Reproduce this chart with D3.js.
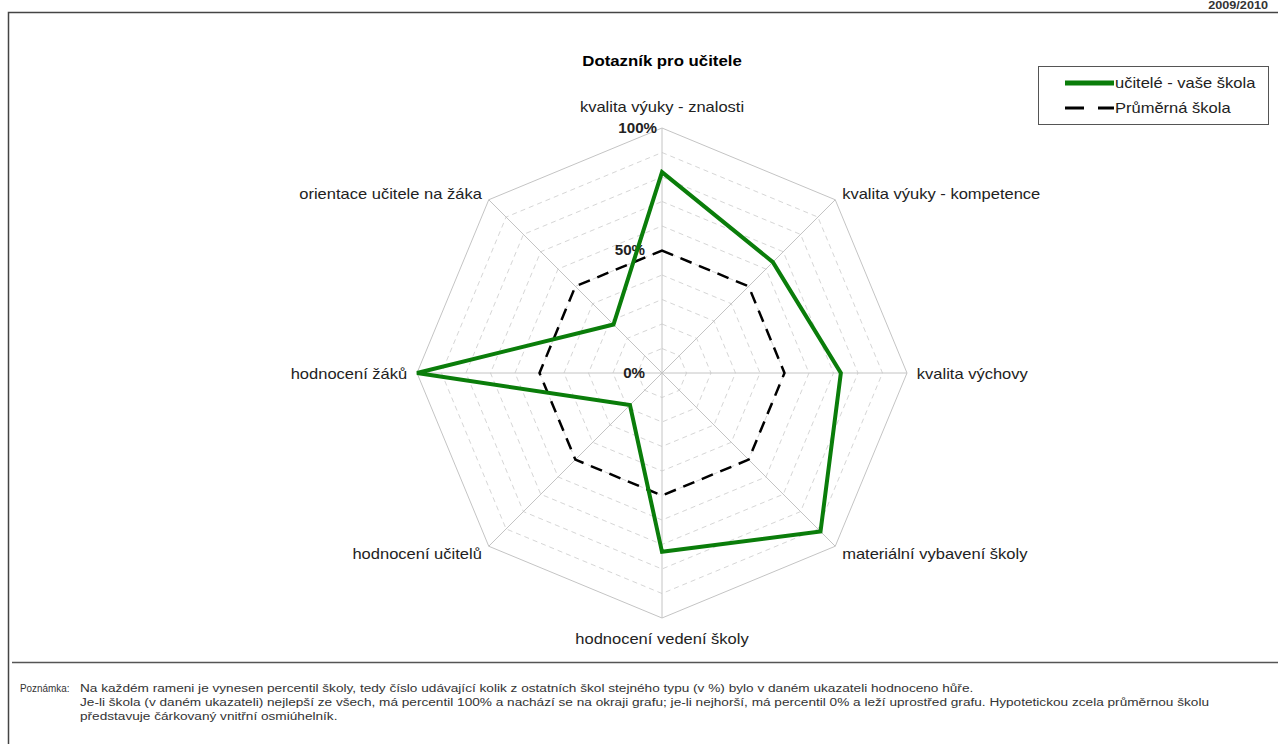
<!DOCTYPE html>
<html>
<head>
<meta charset="utf-8">
<script src="https://cdn.jsdelivr.net/npm/d3@7"></script>
<style>
  body { margin: 0; background: #fff; }
  svg { font-family: "Liberation Sans", Arial, sans-serif; }
</style>
</head>
<body>
<svg id="chart" width="1278" height="744"></svg>
<script>
// Radar chart - teacher questionnaire

// axis names (clockwise from top)
const axes = [
    "kvalita výuky - znalosti",
    "kvalita výuky - kompetence",
    "kvalita výchovy",
    "materiální vybavení školy",
    "hodnocení vedení školy",
    "hodnocení učitelů",
    "hodnocení žáků",
    "orientace učitele na žáka"
];

// percentiles (0..1)
const schoolValues = [0.82, 0.64, 0.73, 0.915, 0.73, 0.185, 1.0, 0.28];
const averageValues = [0.5, 0.5, 0.5, 0.5, 0.5, 0.5, 0.5, 0.5];

const seriesNames = ["učitelé - vaše škola", "Průměrná škola"];
const tickLabels = [{ v: 1, t: "100%" }, { v: 0.5, t: "50%" }, { v: 0, t: "0%" }];
const gridLevels = d3.range(1, 10).map(i => i / 10);

const noteLines = [
    "Na každém rameni je vynesen percentil školy, tedy číslo udávající kolik z ostatních škol stejného typu (v %) bylo v daném ukazateli hodnoceno hůře.",
    "Je-li škola (v daném ukazateli) nejlepší ze všech, má percentil 100% a nachází se na okraji grafu; je-li nejhorší, má percentil 0% a leží uprostřed grafu. Hypotetickou zcela průměrnou školu",
    "představuje čárkovaný vnitřní osmiúhelník."
];

const svg = d3.select("#chart");
const cx = 662, cy = 373, R = 245;

const r = d3.scaleLinear().domain([0, 1]).range([0, R]);
const angle = d3.scalePoint().domain(axes).range([0, 2 * Math.PI * 7 / 8]);

function pt(name, v) {
    const a = angle(name);
    return [cx + r(v) * Math.sin(a), cy - r(v) * Math.cos(a)];
}

// the source text is set wider than our fonts, so stretch it horizontally
const wide = (x, y, sx) => `translate(${x},${y}) scale(${sx},1)`;

// frame
svg.append("path")
    .attr("d", "M8.5,744 L8.5,12.5 L1278,12.5")
    .attr("fill", "none").attr("stroke", "#444").attr("stroke-width", 1.5);
svg.append("line")
    .attr("x1", 12).attr("x2", 1278).attr("y1", 662.5).attr("y2", 662.5)
    .attr("stroke", "#555").attr("stroke-width", 1.5);

svg.append("text")
    .attr("transform", wide(1268, 9, 1.15))
    .attr("text-anchor", "end")
    .attr("font-size", 11).attr("font-weight", "bold").attr("fill", "#333")
    .text("2009/2010");

// title
svg.append("text")
    .attr("transform", wide(cx, 66, 1.12))
    .attr("text-anchor", "middle")
    .attr("font-size", 15).attr("font-weight", "bold")
    .text("Dotazník pro učitele");

const line = d3.line();
const ring = v => line(axes.map(a => pt(a, v))) + "Z";

// dashed grid octagons
svg.append("g").selectAll("path")
    .data(gridLevels)
    .enter()
    .append("path")
    .attr("d", d => ring(d))
    .attr("fill", "none")
    .attr("stroke", "#d6d6d6")
    .attr("stroke-dasharray", "5,4");

// outer octagon
svg.append("path")
    .attr("d", ring(1))
    .attr("fill", "none").attr("stroke", "#c4c4c4");

// spokes
svg.append("g").selectAll("line")
    .data(axes)
    .enter()
    .append("line")
    .attr("x1", cx).attr("y1", cy)
    .attr("x2", d => pt(d, 1)[0]).attr("y2", d => pt(d, 1)[1])
    .attr("stroke", "#c4c4c4");

// axis labels
svg.append("g").selectAll("text")
    .data(axes)
    .enter()
    .append("text")
    .attr("transform", d => {
        const [x, y] = pt(d, 1.04);
        const c = Math.cos(angle(d));
        return wide(x, Math.abs(c) > 0.99 ? y - c * 11 : y + 1, 1.18);
    })
    .attr("dominant-baseline", "central")
    .attr("text-anchor", d => {
        const s = Math.sin(angle(d));
        return Math.abs(s) < 0.01 ? "middle" : (s > 0 ? "start" : "end");
    })
    .attr("font-size", 14).attr("fill", "#222")
    .text(d => d);

// tick labels
svg.append("g").selectAll("text")
    .data(tickLabels)
    .enter()
    .append("text")
    .attr("transform", d => wide(d.v === 1 ? cx - 5 : cx - 17, cy - r(d.v), 1.08))
    .attr("dominant-baseline", "central")
    .attr("text-anchor", "end")
    .attr("font-size", 14).attr("font-weight", "bold").attr("fill", "#222")
    .text(d => d.t);

// series
svg.append("path")
    .attr("d", line(axes.map((a, i) => pt(a, averageValues[i]))) + "Z")
    .attr("fill", "none").attr("stroke", "#000")
    .attr("stroke-width", 2.5).attr("stroke-dasharray", "12,8");

svg.append("path")
    .attr("d", line(axes.map((a, i) => pt(a, schoolValues[i]))) + "Z")
    .attr("fill", "none").attr("stroke", "#0a7d0a")
    .attr("stroke-width", 4).attr("stroke-linejoin", "miter");

// legend
const lg = svg.append("g").attr("transform", "translate(1038,66)");
lg.append("rect")
    .attr("x", 0.5).attr("y", 0.5).attr("width", 230).attr("height", 58)
    .attr("fill", "#fff").attr("stroke", "#555");
lg.append("line")
    .attr("x1", 27).attr("x2", 76).attr("y1", 17).attr("y2", 17)
    .attr("stroke", "#0a7d0a").attr("stroke-width", 5);
lg.append("line")
    .attr("x1", 27).attr("x2", 76).attr("y1", 42).attr("y2", 42)
    .attr("stroke", "#000").attr("stroke-width", 3).attr("stroke-dasharray", "19,14");
lg.selectAll("text")
    .data(seriesNames)
    .enter()
    .append("text")
    .attr("transform", (d, i) => wide(77, 17 + i * 25, 1.18))
    .attr("dominant-baseline", "central")
    .attr("font-size", 14).attr("fill", "#222")
    .text(d => d);

// footnote
svg.append("text")
    .attr("transform", wide(20, 692, 0.9))
    .attr("font-size", 11).attr("fill", "#333")
    .text("Poznámka:");
svg.append("g").selectAll("text")
    .data(noteLines)
    .enter()
    .append("text")
    .attr("transform", (d, i) => wide(80, 692 + i * 14, 1.24))
    .attr("font-size", 11).attr("fill", "#333")
    .text(d => d);
</script>
</body>
</html>
